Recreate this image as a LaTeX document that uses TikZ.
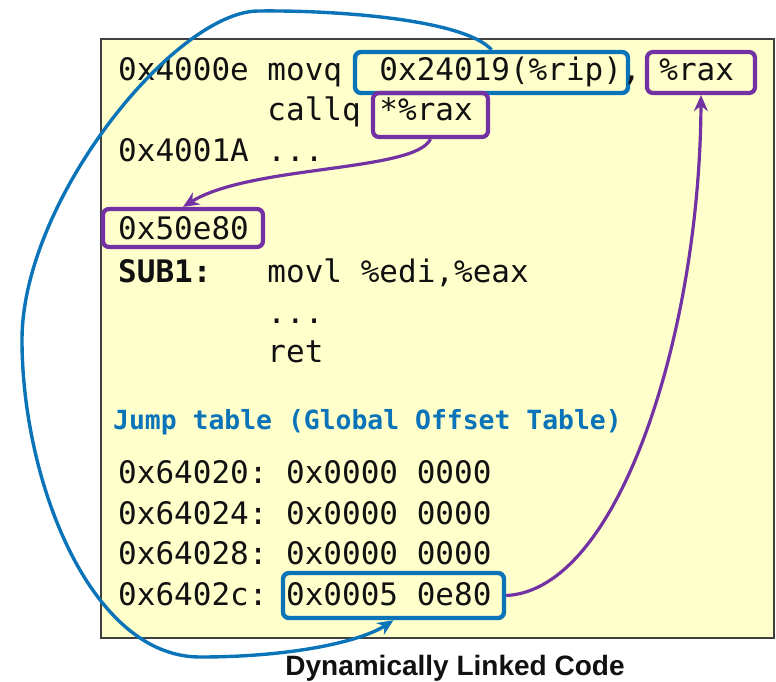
\documentclass[tikz,border=0pt]{standalone}
\usepackage{fontspec}
\setmonofont{DejaVu Sans Mono}
\setsansfont{Liberation Sans}
\usetikzlibrary{arrows.meta,fit}

\definecolor{pageyellow}{HTML}{FFFFCC}
\definecolor{frame}{HTML}{404040}
\definecolor{hlblue}{HTML}{0B74B8}
\definecolor{hlpurple}{HTML}{7332A3}
\definecolor{ink}{HTML}{111111}

\tikzset{
  code/.style={anchor=base west, inner sep=0pt, text=ink,
    font=\ttfamily\fontsize{31}{31}\selectfont},
  codebold/.style={code, font=\ttfamily\bfseries\fontsize{31}{31}\selectfont},
  heading/.style={anchor=base west, inner sep=0pt, text=hlblue,
    font=\ttfamily\bfseries\fontsize{26.4}{26.4}\selectfont},
  hlbox/.style={draw, rounded corners=6pt, inner sep=0pt},
  bluebox/.style={hlbox, draw=hlblue, line width=4.4pt},
  purplebox/.style={hlbox, draw=hlpurple, line width=4.2pt},
  bluelink/.style={draw=hlblue, line width=3.4pt,
    -{Stealth[length=16pt,width=14pt]}},
  purplelink/.style={draw=hlpurple, line width=3.2pt,
    -{Stealth[length=16pt,width=14pt]}},
}

\begin{document}
\begin{tikzpicture}[x=1pt, y=-1pt]
\useasboundingbox (0,0) rectangle (776,681);

% memory panel
\draw[fill=pageyellow, draw=frame, line width=2pt] (101,39) rectangle (774,638);

% column positions of the monospaced listing
\def\cw{18.66}
\pgfmathsetmacro{\cA}{118}
\pgfmathsetmacro{\cB}{118+8*\cw}
\pgfmathsetmacro{\cC}{118+9*\cw}
\pgfmathsetmacro{\cD}{118+14*\cw}
\pgfmathsetmacro{\cE}{118+29*\cw}

% highlight boxes
\node[bluebox,   fit={(355,52) (628,93)}]  (rip)   {};
\node[purplebox, fit={(647,52) (755,93)}]  (rax)   {};
\node[purplebox, fit={(373,93) (488,137)}] (call)  {};
\node[purplebox, fit={(103,209) (263,247)}](sub)   {};
\node[bluebox,   fit={(283,573) (504,618)}](got)   {};

% program text
\node[code] (t1a) at (\cA,80)  {0x4000e movq};
\node[code] (t1b) at (\cD,80)  {0x24019(\%rip),};
\node[code] (t1c) at (\cE,80)  {\%rax};
\node[code] (t2a) at (\cB,120) {callq};
\node[code] (t2b) at (\cD,120) {*\%rax};
\node[code] (t3)  at (\cA,161) {0x4001A ...};
\node[code] (t4)  at (\cA,239) {0x50e80};
\node[codebold] (t5a) at (\cA,282) {SUB1:};
\node[code] (t5b) at (\cB,282) {movl \%edi,\%eax};
\node[code] (t6)  at (\cB,323) {...};
\node[code] (t7)  at (\cB,362) {ret};

\node[heading] (jt) at (113,429) {Jump table (Global Offset Table)};

\node[code] (g1a) at (\cA,483) {0x64020:};
\node[code] (g1b) at (\cC,483) {0x0000 0000};
\node[code] (g2a) at (\cA,524) {0x64024:};
\node[code] (g2b) at (\cC,524) {0x0000 0000};
\node[code] (g3a) at (\cA,564) {0x64028:};
\node[code] (g3b) at (\cC,564) {0x0000 0000};
\node[code] (g4a) at (\cA,605) {0x6402c:};
\node[code] (g4b) at (\cC,605) {0x0005 0e80};

% caption
\node[anchor=base, inner sep=0pt, text=ink,
  font=\sffamily\bfseries\fontsize{28}{28}\selectfont]
  (cap) at (455,675) {Dynamically Linked Code};

% rip-relative load reaches the GOT entry
\path[bluelink] (rip.north)
  .. controls (465,20) and (340,10) .. (258,11)
  .. controls (175,12) and (22,200) .. (22,340)
  .. controls (22,480) and (90,657) .. (200,657)
  .. controls (290,657) and (360,642) .. (got.south);

% GOT entry is loaded into %rax
\path[purplelink] (got.east)
  .. controls (620,590) and (700,330) .. (rax.south);

% indirect call lands on SUB1
\path[purplelink] (call.south)
  .. controls (415,172) and (250,165) .. (sub.north);

\end{tikzpicture}
\end{document}
